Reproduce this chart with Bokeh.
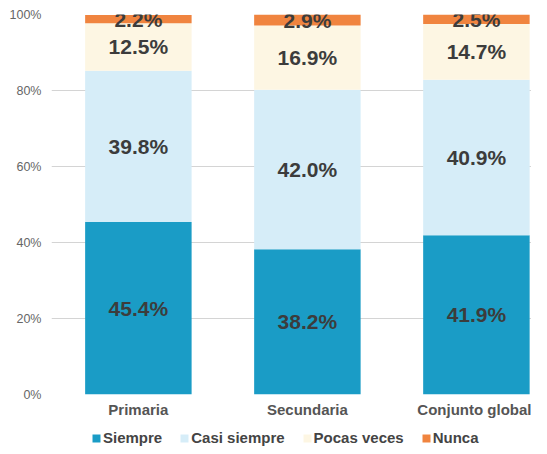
from bokeh.plotting import figure
from bokeh.layouts import column
from bokeh.models import (ColumnDataSource, Legend, LegendItem, Range1d, FixedTicker,
                          PrintfTickFormatter, LabelSet)
from bokeh.core.properties import value
from bokeh.embed import file_html
from bokeh.resources import INLINE

categories = ["Primaria", "Secundaria", "Conjunto global"]
series = ["Siempre", "Casi siempre", "Pocas veces", "Nunca"]
siempre = [45.4, 38.2, 41.9]
casi_siempre = [39.8, 42.0, 40.9]
pocas_veces = [12.5, 16.9, 14.7]
nunca = [2.2, 2.9, 2.5]
colors = ["#1a9cc6", "#d6edf8", "#fdf6e3", "#f0843f"]
y_ticks = [0, 20, 40, 60, 80, 100]

xs = list(range(len(categories)))
data = {"x": xs, "Siempre": siempre, "Casi siempre": casi_siempre,
        "Pocas veces": pocas_veces, "Nunca": nunca}
source = ColumnDataSource(data)

p = figure(width=531, height=420, x_range=Range1d(-0.514, 2.326), y_range=Range1d(0, 100),
           output_backend="svg", toolbar_location=None,
           min_border_left=51, min_border_right=0, min_border_top=14, min_border_bottom=25)
p.outline_line_color = None

renderers = p.vbar_stack(series, x="x", width=0.63, color=colors, source=source, line_color=None)

# labels
lx, ly, lt = [], [], []
for i in xs:
    base = 0.0
    for vals in [siempre, casi_siempre, pocas_veces, nunca]:
        v = vals[i]
        lx.append(i)
        ly.append(base + v / 2)
        lt.append(f"{v:.1f}%")
        base += v
lsrc = ColumnDataSource(dict(x=lx, y=ly, t=lt))
labels = LabelSet(x="x", y="y", text="t", source=lsrc, text_align="center",
                  text_baseline="middle", text_font=value("Liberation Sans"),
                  text_font_size="21px", text_font_style="bold", text_color="#3c3c3c")
p.add_layout(labels)

# axes
for ax in (p.xaxis[0], p.yaxis[0]):
    ax.axis_line_color = None
    ax.major_tick_line_color = None
    ax.minor_tick_line_color = None
    ax.major_tick_out = 0
    ax.major_tick_in = 0
    ax.minor_tick_out = 0
    ax.minor_tick_in = 0
    ax.major_label_text_font = "Liberation Sans"

p.yaxis.ticker = FixedTicker(ticks=y_ticks)
p.yaxis.formatter = PrintfTickFormatter(format="%d%%")
p.yaxis.major_label_text_font_size = "12.5px"
p.yaxis.major_label_text_color = "#666666"
p.yaxis.major_label_standoff = 10

p.xaxis.ticker = FixedTicker(ticks=xs)
p.xaxis.major_label_overrides = {i: c for i, c in zip(xs, categories)}
p.xaxis.major_label_text_font_size = "15px"
p.xaxis.major_label_text_font_style = "bold"
p.xaxis.major_label_text_color = "#555555"
p.xaxis.major_label_standoff = 6

p.xgrid.grid_line_color = None
p.ygrid.grid_line_color = "#d4d4d4"
p.ygrid.ticker = FixedTicker(ticks=y_ticks)

# legend strip (swatch renderers kept outside the visible range)
p2 = figure(width=531, height=30, x_range=Range1d(100, 101), y_range=Range1d(100, 101),
            output_backend="svg", toolbar_location=None,
            x_axis_location=None, y_axis_location=None,
            min_border_left=0, min_border_right=0, min_border_top=0, min_border_bottom=0)
p2.outline_line_color = None
p2.xgrid.grid_line_color = None
p2.ygrid.grid_line_color = None
swatches = p2.vbar_stack(series, x="x", width=0.63, color=colors, source=source, line_color=None)
legend = Legend(items=[LegendItem(label=s, renderers=[r]) for s, r in zip(series, swatches)],
                orientation="horizontal", location=(40, 4),
                glyph_width=10, glyph_height=10, label_standoff=2, spacing=17,
                label_text_font="Liberation Sans", label_text_font_size="15px",
                label_text_font_style="bold", label_text_color="#444444",
                border_line_color=None, background_fill_alpha=0, margin=0, padding=0)
p2.add_layout(legend)

layout = column(p, p2, spacing=0)
open("out.html", "w").write(file_html(layout, INLINE))
